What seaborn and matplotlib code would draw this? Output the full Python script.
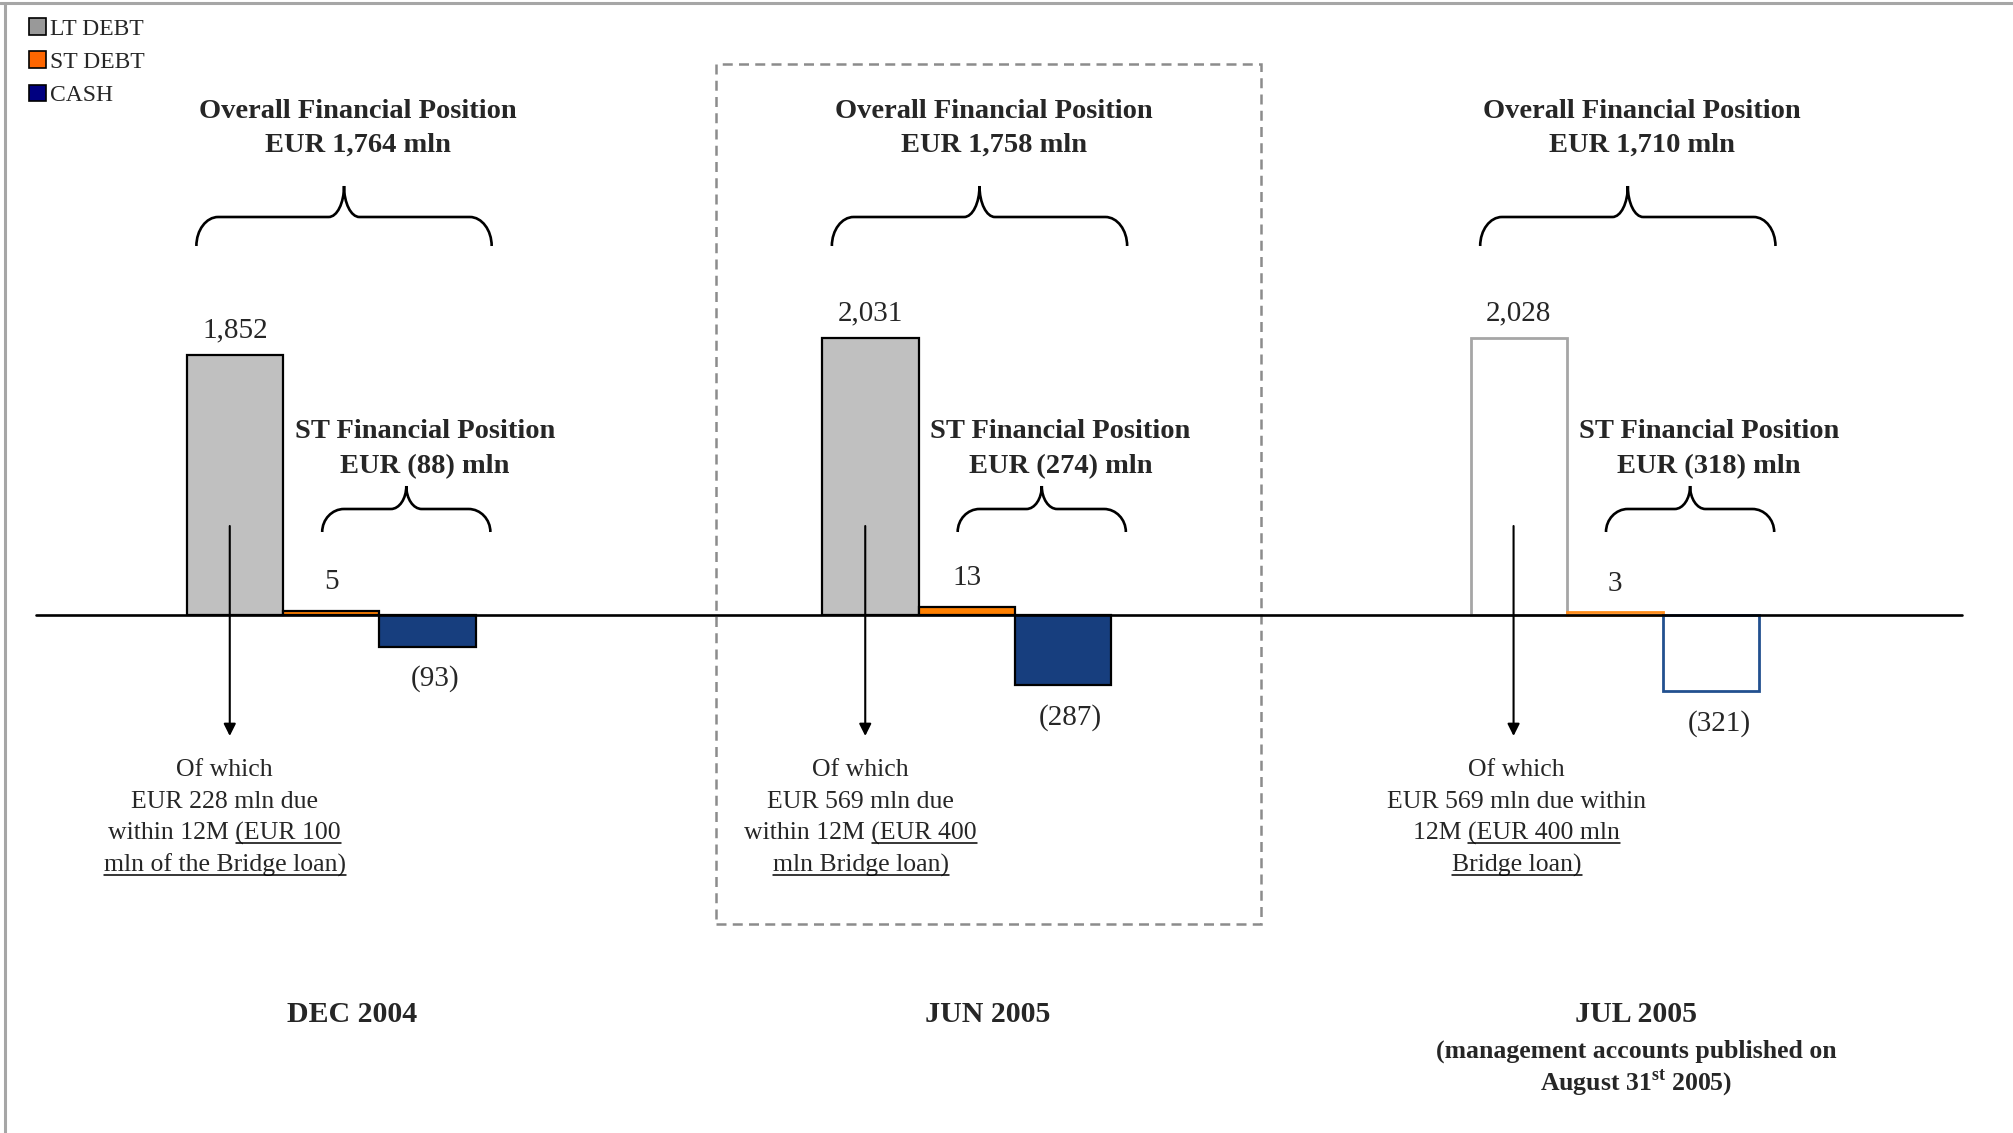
import numpy as np
import pandas as pd
import matplotlib
matplotlib.use("Agg")
import matplotlib.pyplot as plt
import matplotlib.transforms as mtransforms
from matplotlib.path import Path
from matplotlib.patches import PathPatch, Rectangle, Patch
from matplotlib.lines import Line2D
import seaborn as sns

# ---- values ----
periods = ["DEC 2004", "JUN 2005", "JUL 2005"]
series = ["LT DEBT", "ST DEBT", "CASH"]
lt_debt = [1852, 2031, 2028]
st_debt = [5, 13, 3]
cash = [-93, -287, -321]
overall_position = [1764, 1758, 1710]
st_position = [-88, -274, -318]
jul_subtitle = ["(management accounts published on", "August 31$^{\\mathbf{st}}$ 2005)"]
# "Of which" notes, one (plain, underlined) pair per line
notes = [
    [("Of which", ""), ("EUR 228 mln due", ""), ("within 12M ", "(EUR 100"), ("", "mln of the Bridge loan)")],
    [("Of which", ""), ("EUR 569 mln due", ""), ("within 12M ", "(EUR 400"), ("", "mln Bridge loan)")],
    [("Of which", ""), ("EUR 569 mln due within", ""), ("12M ", "(EUR 400 mln"), ("", "Bridge loan)")],
]

fills = {"LT DEBT": "#C0C0C0", "ST DEBT": "#FF8000", "CASH": "#173E7E"}
hollow_edges = {"LT DEBT": "#A6A6A6", "ST DEBT": "#FF8C1A", "CASH": "#22508F"}
legend_colors = ["#999999", "#FF6600", "#000080"]

# ---- layout ----
W, H = 2013, 1133
group_x = [0.0, 0.99, 2.0]
bar_w = 0.15
note_dx = [-0.016, -0.015, -0.003]

sns.set_style("white")
plt.rcParams["font.family"] = ["Liberation Serif", "DejaVu Serif"]
plt.rcParams["mathtext.fontset"] = "custom"
plt.rcParams["mathtext.rm"] = "Liberation Serif"
plt.rcParams["mathtext.bf"] = "Liberation Serif:bold"

fig = plt.figure(figsize=(W / 100, H / 100), dpi=100)
ax = fig.add_axes([0, 0, 1, 1])

rows = []
for i, per in enumerate(periods):
    for j, (s, vals) in enumerate(zip(series, [lt_debt, st_debt, cash])):
        rows.append({"period": per, "series": s, "value": vals[i],
                     "x": round(group_x[i] + j * bar_w, 4)})
df = pd.DataFrame(rows)

sns.barplot(data=df, x="x", y="value", hue="series", hue_order=series,
            palette=fills, native_scale=True, dodge=False, width=1.0,
            errorbar=None, edgecolor="black", linewidth=1.6, legend=False,
            saturation=1, ax=ax, zorder=2)

# last period is drawn as hollow outlines
for bar in list(ax.patches):
    cx = bar.get_x() + bar.get_width() / 2
    r = df.iloc[(df["x"] - cx).abs().argmin()]
    if r["period"] == periods[2]:
        bar.set_facecolor("white")
        bar.set_edgecolor(hollow_edges[r["series"]])
        bar.set_linewidth(2.0)

# compressed (power) y scale, like the schematic slide
p = 0.7
def fwd(y):
    y = np.asarray(y, dtype=float)
    return np.sign(y) * np.abs(y) ** p
def inv(y):
    y = np.asarray(y, dtype=float)
    return np.sign(y) * np.abs(y) ** (1 / p)

ax.set_yscale("function", functions=(fwd, inv))
base_px, k = 615, 1.3416
ax.set_ylim(float(inv(-(H - base_px) / k)), float(inv(base_px / k)))
x0_px, pitch_px = 234.9, 641.9
ax.set_xlim(-x0_px / pitch_px, (W - x0_px) / pitch_px)
ax.axis("off")

ax.axhline(0, xmin=36 / W, xmax=1962 / W, color="black", lw=1.9, zorder=3)

tr = mtransforms.blended_transform_factory(ax.transData, ax.transAxes)
def fy(py):
    return 1 - py / H

def brace(xl, xr, y_end, y_arm, y_tip, r=0.034, rc=0.024, c=0.55):
    ye, ya, yt = fy(y_end), fy(y_arm), fy(y_tip)
    xm = (xl + xr) / 2
    verts = [(xl, ye),
             (xl, ye + c * (ya - ye)), (xl + r * (1 - c), ya), (xl + r, ya),
             (xm - rc, ya),
             (xm - rc * (1 - c), ya), (xm, yt - c * (yt - ya)), (xm, yt),
             (xm, yt - c * (yt - ya)), (xm + rc * (1 - c), ya), (xm + rc, ya),
             (xr - r, ya),
             (xr - r * (1 - c), ya), (xr, ye + c * (ya - ye)), (xr, ye)]
    C = Path.CURVE4
    codes = [Path.MOVETO, C, C, C, Path.LINETO, C, C, C, C, C, C, Path.LINETO, C, C, C]
    ax.add_patch(PathPatch(Path(verts, codes), transform=tr, fill=False,
                           lw=1.9, ec="black", capstyle="butt", zorder=4))

bold = dict(transform=tr, ha="center", va="center", fontweight="bold")
pending = []
for i, g in enumerate(group_x):
    ax.text(g + 0.192, fy(111), "Overall Financial Position", fontsize=20.5, **bold)
    ax.text(g + 0.192, fy(145), f"EUR {overall_position[i]:,} mln", fontsize=20.5, **bold)
    brace(g - 0.06, g + 0.40, 246, 217, 186)

    ax.text(g + 0.296, fy(431), "ST Financial Position", fontsize=20.5, **bold)
    ax.text(g + 0.296, fy(467), f"EUR ({-st_position[i]:,}) mln", fontsize=20.5, **bold)
    brace(g + 0.136, g + 0.398, 532, 509, 486)

    ax.annotate("", xy=(g - 0.008, fy(736)), xytext=(g - 0.008, fy(526)),
                xycoords=tr, textcoords=tr, zorder=5,
                arrowprops=dict(arrowstyle="-|>", color="black", lw=1.5,
                                mutation_scale=18, shrinkA=0, shrinkB=0))

    for li, (plain, under) in enumerate(notes[i]):
        t = ax.text(g + note_dx[i], fy(776 + 32 * li), plain + under, transform=tr,
                    ha="center", va="baseline", fontsize=18.5)
        if under:
            pending.append((t, under))

    ax.text(g + 0.183, fy(1015), periods[i], fontsize=21.5, **bold)

for li, line in enumerate(jul_subtitle):
    ax.text(group_x[2] + 0.183, fy(1051 + 32 * li), line, fontsize=18.5, **bold)

# value labels
for _, r in df.iterrows():
    v = r["value"]
    if r["series"] == "LT DEBT":
        off, dx = 17.5, 0
    elif v >= 0:
        off, dx = 20.5, 0
    else:
        off, dx = -23, 5.5
    txt = f"{v:,}" if v >= 0 else f"({-v:,})"
    ax.annotate(txt, xy=(r["x"], v), xytext=(dx, off), textcoords="offset points",
                ha="center", va="center", fontsize=21)

# dashed highlight box round JUN 2005
ax.add_patch(Rectangle((group_x[1] - 0.2405, fy(924)), 0.849, fy(64) - fy(924),
                       transform=tr, fill=False, ec="#8C8C8C", lw=1.8,
                       ls=(0, (4, 2.5)), zorder=1))

# slide frame (top and left)
fig.add_artist(Line2D([0, 1], [1 - 3 / H, 1 - 3 / H], transform=fig.transFigure,
                      color="#A6A6A6", lw=2.2))
fig.add_artist(Line2D([5 / W, 5 / W], [0, 1 - 3 / H], transform=fig.transFigure,
                      color="#A6A6A6", lw=2.2))

handles = [Patch(facecolor=c, edgecolor="black", linewidth=1.2) for c in legend_colors]
ax.legend(handles, series, loc="upper left", bbox_to_anchor=(29 / W, 1 - 18 / H),
          bbox_transform=fig.transFigure, frameon=False, fontsize=17,
          handlelength=0.7, handleheight=0.7, handletextpad=0.2,
          labelspacing=0.5, borderpad=0, borderaxespad=0)

# underline the bridge-loan part of the notes
fig.canvas.draw()
renderer = fig.canvas.get_renderer()
for t, under in pending:
    bb = t.get_window_extent(renderer)
    wu, _, _ = renderer.get_text_width_height_descent(under, t.get_fontproperties(), ismath=False)
    _, ybase = t.get_transform().transform(t.get_position())
    fig.add_artist(Line2D([(bb.x1 - wu) / W, bb.x1 / W], [(ybase - 3) / H] * 2,
                          transform=fig.transFigure, color="black", lw=1.1))

fig.savefig("out.png", dpi=100)
